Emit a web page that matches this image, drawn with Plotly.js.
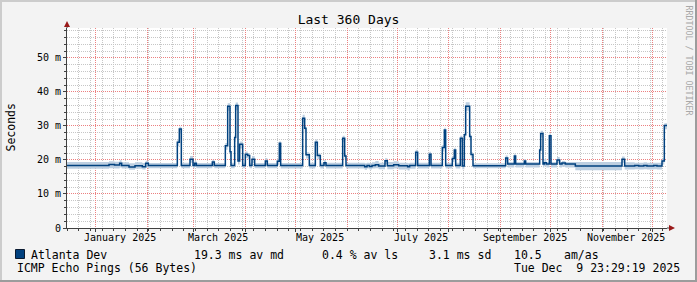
<!DOCTYPE html>
<html><head><meta charset="utf-8">
<script src="https://cdn.plot.ly/plotly-3.0.1.min.js"></script>
<style>
html,body{margin:0;padding:0;background:#f3f3f3;}
#chart{width:697px;height:282px;}
</style>
</head><body><div id="chart"></div>
<script>
// ---- data ----
const startTime = '2024-12-14 23:29:19';
const endTime = '2025-12-09 23:29:19';
// days since start of window where the median changes
const dayOffset = [0,25.2,28.5,31.6,32.8,37.2,40.8,45.2,47.2,48.8,66.2,67.4,68.6,73.8,75.6,76.6,77.6,87.2,88.4,95.0,
  96.4,97.8,98.4,100.6,101.2,102.6,103.6,105.4,107.0,108.4,109.6,111.0,112.6,119.0,120.2,126.2,127.4,128.2,141.4,142.6,
  143.4,145.4,149.0,150.2,152.0,154.2,155.4,165.4,166.6,167.4,178.6,180.0,181.5,183.0,185.0,187.0,190.8,192.2,196.0,199.0,
  204.4,205.6,209.2,210.4,217.4,218.4,225.2,226.4,227.2,231.2,232.4,233.2,236.0,237.2,238.4,239.2,241.6,242.4,243.6,263.2,
  264.4,268.4,269.2,274.4,275.2,283.6,284.2,285.6,286.4,287.6,289.4,290.4,294.0,295.6,297.0,299.0,305.0,333.0,334.6,340.6,
  343.0,346.0,348.0,352.0,354.0,357.0,358.4,360];
// median RTT (ms)
const medianMs = [18.4,18.7,18.5,19.0,18.4,17.9,18.3,18.0,19.0,18.4,25.2,29.1,18.4,20.2,18.4,19.0,18.4,19.4,18.4,24.2,
  35.8,22.4,18.4,26.6,36.0,19.7,24.6,18.4,21.7,21.3,18.4,20.2,18.4,19.7,18.4,19.6,24.9,18.4,32.3,29.3,
  21.5,18.4,25.2,21.3,18.4,19.2,18.4,26.4,21.2,18.4,18.0,18.4,18.1,18.4,18.6,18.2,19.8,18.3,18.6,18.3,
  18.0,18.4,22.3,18.4,21.7,18.4,23.7,28.8,18.4,20.4,22.9,18.4,26.4,18.2,27.4,35.8,26.9,21.6,18.3,20.6,
  18.8,21.2,18.8,19.7,18.8,22.9,27.8,18.8,19.2,18.8,27.1,18.8,20.0,18.8,19.1,18.8,18.2,20.2,18.2,18.4,
  18.2,18.4,18.2,18.4,18.2,19.7,30.1,30.1];
// smoke band (ms)
const smokeLowMs = [17.4,17.6,17.5,17.8,17.5,17.1,17.4,17.2,17.8,17.6,24.0,27.8,17.6,19.2,17.6,18.0,17.6,18.4,17.6,23.0,
  34.5,21.2,17.6,25.3,34.6,18.7,23.4,17.6,20.6,20.2,17.6,19.2,17.6,18.7,17.6,18.6,23.6,17.5,31.0,28.0,
  20.4,17.5,24.0,20.2,17.5,18.3,17.5,25.2,20.2,17.5,17.1,17.5,17.2,17.5,17.6,17.3,18.8,17.3,17.5,17.2,
  16.9,17.4,21.2,17.5,20.6,17.5,22.5,27.5,17.5,19.4,21.8,17.5,25.2,17.3,26.2,34.5,25.7,20.5,17.6,19.5,
  17.8,20.2,17.8,18.7,17.8,21.8,26.6,17.8,18.2,17.8,25.9,17.8,19.0,17.8,18.0,17.8,17.0,19.2,17.2,17.3,
  17.2,17.3,17.2,17.3,17.2,18.7,29.0,29.0];
const smokeHighMs = [19.4,19.6,19.5,19.9,19.3,19.0,19.3,19.1,19.8,19.1,26.0,29.8,19.2,21.2,19.1,19.7,19.1,20.1,19.1,25.0,
  36.7,23.2,19.2,27.4,36.9,20.4,25.4,19.2,22.5,22.0,19.2,21.2,19.1,20.6,19.1,20.3,25.5,19.1,33.3,30.0,
  22.3,19.2,26.0,22.0,19.2,19.9,19.2,27.1,22.0,19.2,19.0,19.2,19.1,19.3,19.7,19.2,20.5,19.4,19.6,19.2,
  19.0,19.2,23.0,19.2,22.4,19.2,24.4,29.5,19.2,21.2,23.6,19.2,27.1,19.0,28.1,37.0,27.6,22.3,19.0,21.3,
  19.4,21.9,19.4,20.3,19.4,23.6,28.6,19.4,20.3,19.4,27.8,19.4,20.9,19.4,19.7,19.4,19.4,21.0,19.3,19.2,
  19.2,19.3,19.2,19.2,19.2,20.4,30.8,30.8];
const yTickValues = [0,10,20,30,40,50];
const yTickLabels = ['0','10 m','20 m','30 m','40 m','50 m'];
const monthStarts = ['2025-01-01','2025-02-01','2025-03-01','2025-04-01','2025-05-01','2025-06-01',
  '2025-07-01','2025-08-01','2025-09-01','2025-10-01','2025-11-01','2025-12-01'];
const monthLabelDates = ['2025-01-15 12:00','2025-03-15 12:00','2025-05-15 12:00','2025-07-15 12:00','2025-09-15 12:00','2025-11-15 12:00'];
const monthLabels = ['January 2025','March 2025','May 2025','July 2025','September 2025','November 2025'];
const weekGridStart = '2024-12-22';
const chartTitle = 'Last 360 Days';
const yTitle = 'Seconds';
const legendName = 'Atlanta Dev';
const statMedian = '19.3 ms av md';
const statLoss = '0.4 % av ls';
const statSd = '3.1 ms sd';
const statAmas = '10.5';
const statAmasUnit = 'am/as';
const probeText = 'ICMP Echo Pings (56 Bytes)';
const dateStamp = 'Tue Dec\u00A0\u00A09 23:29:19 2025';
const watermark = 'RRDTOOL / TOBI OETIKER';

// ---- build ----
const DAY = 86400000;
const startMs = Date.parse(startTime.replace(' ', 'T') + 'Z');
const xs = dayOffset.map(d => startMs + d * DAY);

const FONT = 'DejaVu Sans Mono, monospace';
const L = 67, T = 28, W = 600, H = 200;
const px = p => (p - L) / W;
const py = p => (T + H - p) / H;

const traces = [
  {x: xs, y: smokeLowMs, type: 'scatter', mode: 'lines', line: {width: 0, shape: 'hv'}, hoverinfo: 'skip'},
  {x: xs, y: smokeHighMs, type: 'scatter', mode: 'lines', line: {width: 0, shape: 'hv'}, fill: 'tonexty', fillcolor: '#bdcfe1', hoverinfo: 'skip'},
  {x: xs, y: medianMs, type: 'scatter', mode: 'lines', name: legendName, line: {color: '#00417f', width: 1.5, shape: 'hv'}, hoverinfo: 'skip'}
];

const gridRed = '#ec8080', gridGray = '#c6c6c6', axisCol = '#404040';
const txt = (text, x, y, xanchor, extra) => Object.assign({text, xref: 'paper', yref: 'paper', x: px(x), y: py(y), showarrow: false,
  xanchor, yanchor: 'middle', font: {family: FONT, size: 11.5, color: '#000'}}, extra || {});

const annotations = [
  txt(yTitle, 10.5, 128, 'center', {textangle: -90}),
  txt(watermark, 688.5, 60, 'center', {textangle: 90, font: {family: FONT, size: 8.3, color: '#a8a8a8'}}),
  txt(legendName, 29, 254.5, 'left'),
  txt(statMedian, 191.5, 254.5, 'left'),
  txt(statLoss, 319.5, 254.5, 'left'),
  txt(statSd, 426.5, 254.5, 'left'),
  txt(statAmas, 512, 254.5, 'left'),
  txt(statAmasUnit, 561.5, 254.5, 'left'),
  txt(probeText, 15, 268, 'left'),
  txt(dateStamp, 682, 268, 'right')
];
monthLabelDates.forEach((d, i) => annotations.push({text: monthLabels[i], xref: 'x', yref: 'paper', x: d, y: py(237.5),
  showarrow: false, xanchor: 'center', yanchor: 'middle', font: {family: FONT, size: 10, color: '#000'}}));

const layout = {
  width: 697, height: 282,
  margin: {l: L, r: 697 - L - W, t: T, b: 282 - T - H, pad: 0},
  paper_bgcolor: '#f3f3f3', plot_bgcolor: '#ffffff',
  showlegend: false,
  font: {family: FONT, size: 10, color: '#000'},
  title: {text: chartTitle, font: {family: FONT, size: 13, color: '#000'}, x: 0.5, xref: 'container', xanchor: 'center', y: 1 - 19 / 282, yref: 'container', yanchor: 'middle'},
  xaxis: {type: 'date', range: [startTime, endTime], tickmode: 'array', tickvals: monthStarts, ticktext: monthStarts.map(() => ''),
    showticklabels: false, showgrid: true, gridcolor: gridRed, griddash: '1px,1px', gridwidth: 1, color: '#000',
    ticks: 'outside', ticklen: 3, tickcolor: axisCol, showline: true, linecolor: axisCol, linewidth: 1, zeroline: false, fixedrange: true,
    minor: {tickmode: 'linear', tick0: weekGridStart, dtick: 7 * DAY, showgrid: true, gridcolor: gridGray, griddash: '1px,1px', gridwidth: 1,
      ticks: 'outside', ticklen: 2, tickcolor: axisCol}},
  yaxis: {range: [0, 58.8], tickmode: 'array', tickvals: yTickValues, ticktext: yTickLabels, showgrid: true, gridcolor: gridRed,
    griddash: '1px,1px', gridwidth: 1, color: '#000', ticks: 'outside', ticklen: 3, tickcolor: axisCol, showline: true, linecolor: axisCol, linewidth: 1,
    zeroline: false, fixedrange: true, tickfont: {family: FONT, size: 10, color: '#000'},
    minor: {tickmode: 'linear', tick0: 0, dtick: 2, showgrid: true, gridcolor: gridGray, griddash: '1px,1px', gridwidth: 1,
      ticks: 'outside', ticklen: 2, tickcolor: axisCol}},
  shapes: [
    {type: 'line', xref: 'paper', yref: 'paper', x0: 1, x1: px(671), y0: 0, y1: 0, line: {color: axisCol, width: 1}, layer: 'above'},
    {type: 'line', xref: 'paper', yref: 'paper', x0: 0, x1: 0, y0: 1, y1: py(24), line: {color: axisCol, width: 1}, layer: 'above'},
    {type: 'path', xref: 'paper', yref: 'paper', path: `M ${px(669)} ${py(225)} L ${px(675)} ${py(228)} L ${px(669)} ${py(231)} Z`, fillcolor: '#9a1a1a', line: {width: 0}, layer: 'above'},
    {type: 'path', xref: 'paper', yref: 'paper', path: `M ${px(64)} ${py(27)} L ${px(67)} ${py(21)} L ${px(70)} ${py(27)} Z`, fillcolor: '#9a1a1a', line: {width: 0}, layer: 'above'},
    {type: 'rect', xref: 'paper', yref: 'paper', x0: px(15.5), x1: px(24.5), y0: py(258.5), y1: py(249.5), fillcolor: '#00417f', line: {color: '#0a1a30', width: 1}, layer: 'above'},
    {type: 'line', xref: 'paper', yref: 'paper', x0: px(0), x1: px(697), y0: py(1), y1: py(1), line: {color: '#cccccc', width: 2}, layer: 'above'},
    {type: 'line', xref: 'paper', yref: 'paper', x0: px(1), x1: px(1), y0: py(0), y1: py(282), line: {color: '#cccccc', width: 2}, layer: 'above'},
    {type: 'line', xref: 'paper', yref: 'paper', x0: px(0), x1: px(697), y0: py(281), y1: py(281), line: {color: '#9c9c9c', width: 2}, layer: 'above'},
    {type: 'line', xref: 'paper', yref: 'paper', x0: px(696), x1: px(696), y0: py(0), y1: py(282), line: {color: '#9c9c9c', width: 2}, layer: 'above'}
  ],
  annotations
};

// snap 1px grid lines and ticks onto the pixel grid so dotted lines stay sharp
function snapGrid() {
  const re = /translate\(\s*([-\d.e]+)\s*,\s*([-\d.e]+)\s*\)/;
  document.querySelectorAll('#chart path.xgrid, #chart path.xtick').forEach(p => {
    const t = p.getAttribute('transform'); const m = t && t.match(re);
    if (m) p.setAttribute('transform', `translate(${Math.floor(parseFloat(m[1])) + 0.5},${m[2]})`);
    p.style.shapeRendering = 'crispEdges';
  });
  document.querySelectorAll('#chart path.ygrid, #chart path.ytick').forEach(p => {
    const t = p.getAttribute('transform'); const m = t && t.match(re);
    if (m) p.setAttribute('transform', `translate(${m[1]},${Math.floor(parseFloat(m[2])) + 0.5})`);
    p.style.shapeRendering = 'crispEdges';
  });
}

Plotly.newPlot('chart', traces, layout, {displayModeBar: false, staticPlot: true}).then(snapGrid);
</script>
</body></html>
